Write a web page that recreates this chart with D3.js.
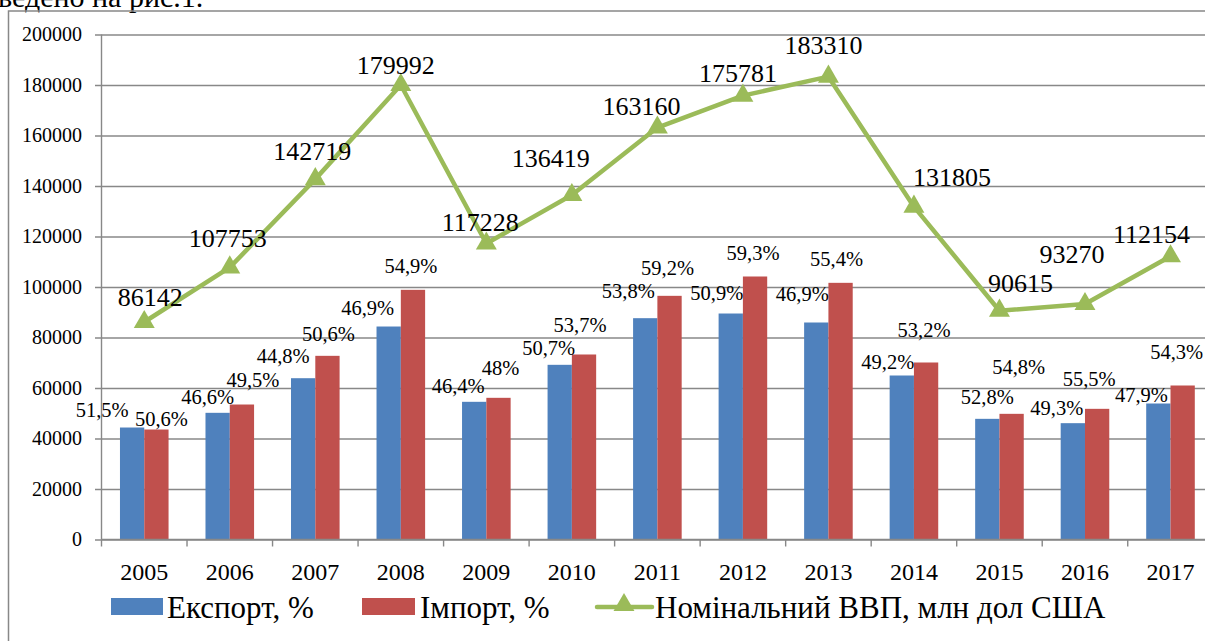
<!DOCTYPE html>
<meta charset="utf-8">
<script src="https://d3js.org/d3.v7.min.js"></script>
<style>
  body { margin: 0; background: #fff; }
  text { font-family: "Liberation Serif", "Times New Roman", serif; fill: #000; }
</style>
<svg id="chart" width="1205" height="641"></svg>
<script>

// Data
var years = ["2005","2006","2007","2008","2009","2010","2011","2012","2013","2014","2015","2016","2017"];
var exportVals = [44350, 50170, 63880, 84350, 54530, 69180, 87650, 89500, 85940, 64950, 47790, 46070, 53860];
var importVals = [43560, 53460, 72740, 98880, 56110, 73270, 96500, 104160, 101650, 70100, 49770, 51750, 60990];
var exportPct = ["51,5%","46,6%","44,8%","46,9%","46,4%","50,7%","53,8%","50,9%","46,9%","49,2%","52,8%","49,3%","47,9%"];
var importPct = ["50,6%","49,5%","50,6%","54,9%","48%","53,7%","59,2%","59,3%","55,4%","53,2%","54,8%","55,5%","54,3%"];
var gdp = [86142, 107753, 142719, 179992, 117228, 136419, 163160, 175781, 183310, 131805, 90615, 93270, 112154];
var yTicks = [0, 20000, 40000, 60000, 80000, 100000, 120000, 140000, 160000, 180000, 200000];
var legendNames = ["Експорт, %", "Імпорт, %", "Номінальний ВВП, млн дол США"];

// label nudges (pixels) so the labels sit where they do in the original
var expShift = [[-30,-18],[-10,-16],[-20,-22],[-21,-19],[-16,-16],[-11,-17],[-17,-27],[-14,-21],[-14,-29],[-14,-14],[0,-22],[-16,-15],[-17,-9]];
var impShift = [[5,-11],[11,-25],[1,-22],[-2,-24],[2,-30],[-4,-30],[-2,-28],[-2,-24],[-4,-24],[-2,-33],[7,-47],[-8,-30],[-6,-34]];
var gdpShift = [[6,-25],[-2,-30],[-3,-28],[-5,-20],[-6,-22],[-21,-37],[-16,-22],[-5,-23],[-5,-32],[38,-30],[21,-28],[-13,-50],[-19,-22]];

drawChart();

function drawChart() {

  var blue = "#4f81bd", red = "#c0504d", green = "#9bbb59", grid = "#888888";

  var svg = d3.select("#chart");

  var plotLeft = 101.5, plotTop = 34.5, plotBottom = 539.5;
  var step = 85.52;
  var plotRight = plotLeft + step * years.length;

  var x = d3.scaleBand().domain(years).range([plotLeft, plotRight]).padding(0);
  var sub = d3.scaleBand().domain(["exp","imp"]).range([0, x.bandwidth()]).paddingInner(0).paddingOuter(0.76);
  var y = d3.scaleLinear().domain([0, 200000]).range([plotBottom, plotTop]);

  // page text above the chart (cut off in the original)
  svg.append("text")
    .attr("x", -2).attr("y", 7)
    .style("font-size", "30px")
    .text("ведено на рис.1.");

  // outer chart border
  svg.append("path")
    .attr("d", "M8.5,641V11H1205")
    .attr("fill", "none")
    .attr("stroke", grid)
    .attr("stroke-width", 1.5);

  // gridlines + y tick labels
  var yAxis = svg.append("g")
    .attr("transform", "translate(" + plotRight + ",0)")
    .call(d3.axisLeft(y).tickValues(yTicks).tickSize(plotRight - 95).tickPadding(13).tickFormat(d3.format("d")));
  yAxis.select(".domain").remove();
  yAxis.selectAll("line").attr("stroke", grid).attr("stroke-width", 1.4);
  yAxis.selectAll("text")
    .attr("fill", "#000")
    .style("font-size", "20px")
    .style("font-family", "Liberation Serif");

  // y axis line
  svg.append("line")
    .attr("x1", plotLeft).attr("x2", plotLeft).attr("y1", plotTop).attr("y2", plotBottom)
    .attr("stroke", grid).attr("stroke-width", 1.4);

  // x category boundary ticks
  var bounds = years.map(function(d) { return x(d); }).concat([plotRight]);
  svg.selectAll(".xtick")
    .data(bounds)
    .enter().append("line")
    .attr("x1", function(d) { return d; }).attr("x2", function(d) { return d; })
    .attr("y1", plotBottom).attr("y2", plotBottom + 7)
    .attr("stroke", grid).attr("stroke-width", 1.4);

  // year labels
  svg.selectAll(".xlab")
    .data(years)
    .enter().append("text")
    .attr("x", function(d) { return x(d) + x.bandwidth() / 2; })
    .attr("y", 580)
    .attr("text-anchor", "middle")
    .style("font-size", "24px")
    .text(function(d) { return d; });

  // bars
  var rows = years.map(function(d, i) {
    return { year: d, i: i, exp: exportVals[i], imp: importVals[i] };
  });

  svg.selectAll(".bexp")
    .data(rows)
    .enter().append("rect")
    .attr("x", function(d) { return x(d.year) + sub("exp"); })
    .attr("width", sub.bandwidth())
    .attr("y", function(d) { return y(d.exp); })
    .attr("height", function(d) { return plotBottom - y(d.exp); })
    .attr("fill", blue);

  svg.selectAll(".bimp")
    .data(rows)
    .enter().append("rect")
    .attr("x", function(d) { return x(d.year) + sub("imp"); })
    .attr("width", sub.bandwidth())
    .attr("y", function(d) { return y(d.imp); })
    .attr("height", function(d) { return plotBottom - y(d.imp); })
    .attr("fill", red);

  // the x axis line over the bars
  svg.append("line")
    .attr("x1", plotLeft).attr("x2", 1205).attr("y1", plotBottom).attr("y2", plotBottom)
    .attr("stroke", grid).attr("stroke-width", 1.4);

  // bar labels
  svg.selectAll(".lexp")
    .data(rows)
    .enter().append("text")
    .attr("x", function(d) { return x(d.year) + sub("exp") + sub.bandwidth() / 2 + expShift[d.i][0]; })
    .attr("y", function(d) { return y(d.exp) + expShift[d.i][1]; })
    .attr("dy", "0.35em")
    .attr("text-anchor", "middle")
    .style("font-size", "20.5px")
    .text(function(d) { return exportPct[d.i]; });

  svg.selectAll(".limp")
    .data(rows)
    .enter().append("text")
    .attr("x", function(d) { return x(d.year) + sub("imp") + sub.bandwidth() / 2 + impShift[d.i][0]; })
    .attr("y", function(d) { return y(d.imp) + impShift[d.i][1]; })
    .attr("dy", "0.35em")
    .attr("text-anchor", "middle")
    .style("font-size", "20.5px")
    .text(function(d) { return importPct[d.i]; });

  // GDP line
  var cx = function(d, i) { return x(years[i]) + x.bandwidth() / 2; };
  var line = d3.line()
    .x(cx)
    .y(function(d) { return y(d); });

  svg.append("path")
    .datum(gdp)
    .attr("d", line)
    .attr("fill", "none")
    .attr("stroke", green)
    .attr("stroke-width", 4.5)
    .attr("stroke-linejoin", "round");

  var tri = d3.symbol().type(d3.symbolTriangle).size(190);
  svg.selectAll(".mk")
    .data(gdp)
    .enter().append("path")
    .attr("d", tri)
    .attr("transform", function(d, i) { return "translate(" + cx(d, i) + "," + y(d) + ")"; })
    .attr("fill", green);

  svg.selectAll(".lgdp")
    .data(gdp)
    .enter().append("text")
    .attr("x", function(d, i) { return cx(d, i) + gdpShift[i][0]; })
    .attr("y", function(d, i) { return y(d) + gdpShift[i][1]; })
    .attr("dy", "0.35em")
    .attr("text-anchor", "middle")
    .style("font-size", "26px")
    .text(function(d) { return d; });

  // legend
  var lg = svg.append("g");
  lg.append("rect").attr("x", 111).attr("y", 598).attr("width", 52).attr("height", 17).attr("fill", blue);
  lg.append("text").attr("x", 167).attr("y", 618).style("font-size", "31px").text(legendNames[0]);
  lg.append("rect").attr("x", 362).attr("y", 598).attr("width", 53).attr("height", 17).attr("fill", red);
  lg.append("text").attr("x", 420).attr("y", 618).style("font-size", "31px").text(legendNames[1]);
  lg.append("line").attr("x1", 597).attr("x2", 652).attr("y1", 607).attr("y2", 607)
    .attr("stroke", green).attr("stroke-width", 4.5).attr("stroke-linecap", "round");
  lg.append("path").attr("d", tri).attr("transform", "translate(624,605)").attr("fill", green);
  lg.append("text").attr("x", 655).attr("y", 618).style("font-size", "31px").text(legendNames[2]);
}

</script>
